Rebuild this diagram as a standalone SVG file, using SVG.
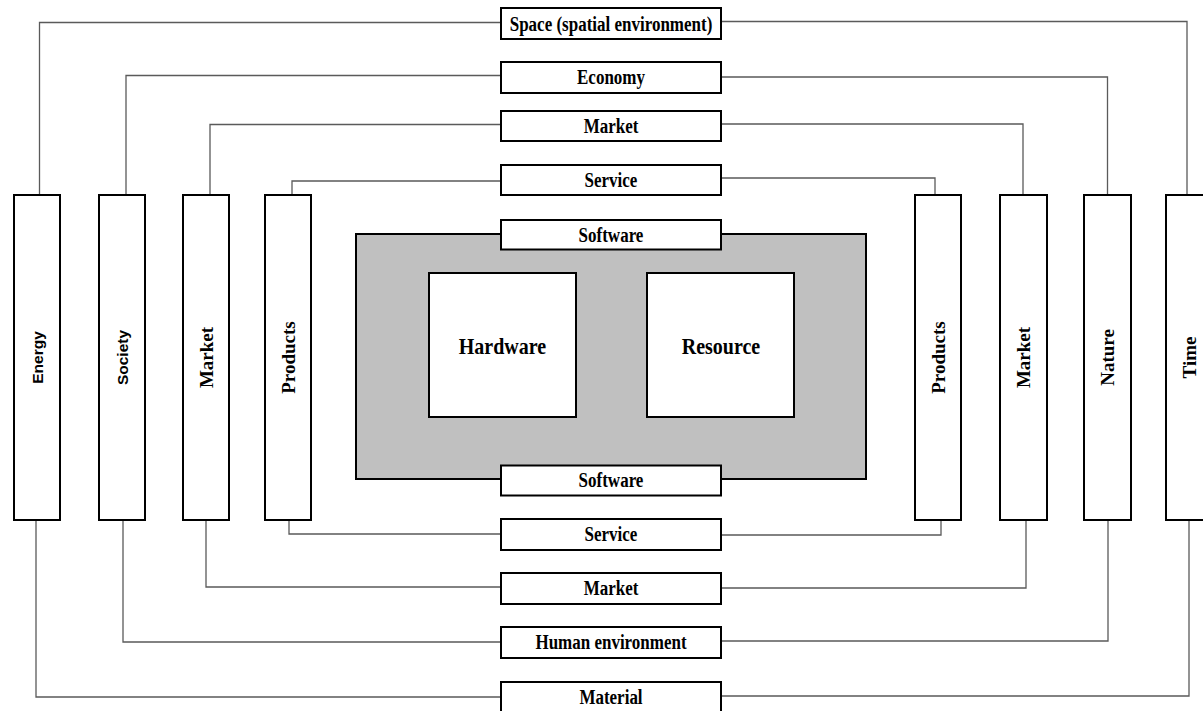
<svg xmlns="http://www.w3.org/2000/svg" width="1203" height="711" viewBox="0 0 1203 711">
<style>
.box{fill:#fff;stroke:#000;stroke-width:2}
.core{fill:#c0c0c0;stroke:#000;stroke-width:2}
.con{fill:none;stroke:#5a5a5a;stroke-width:1.3}
.lbl{font-family:"Liberation Serif","Times New Roman",serif;font-weight:bold;font-size:17px;text-anchor:middle;fill:#000}
.big{font-family:"Liberation Serif","Times New Roman",serif;font-weight:bold;font-size:20px;text-anchor:middle;fill:#000}
.vs{font-family:"Liberation Serif","Times New Roman",serif;font-weight:bold;font-size:19px;text-anchor:middle;fill:#000}
.va{font-family:"Liberation Sans",Arial,sans-serif;font-weight:bold;font-size:15.5px;text-anchor:middle;fill:#000}
</style>
<rect width="1203" height="711" fill="#fff"/>
<g id="connectors">
<polyline class="con" points="501,22.5 39.5,22.5 39.5,195"/>
<polyline class="con" points="721,21.5 1187,21.5 1187,195"/>
<polyline class="con" points="501,75.5 126,75.5 126,195"/>
<polyline class="con" points="721,77 1107.5,77 1107.5,195"/>
<polyline class="con" points="501,124.5 210,124.5 210,195"/>
<polyline class="con" points="721,124 1023,124 1023,195"/>
<polyline class="con" points="501,181 292,181 292,195"/>
<polyline class="con" points="721,178 935,178 935,195"/>
<polyline class="con" points="289,520 289,534 501,534"/>
<polyline class="con" points="721,535 941,535 941,520"/>
<polyline class="con" points="206,520 206,587 501,587"/>
<polyline class="con" points="721,588 1026,588 1026,520"/>
<polyline class="con" points="123,520 123,642 501,642"/>
<polyline class="con" points="721,641 1108,641 1108,520"/>
<polyline class="con" points="36,520 36,697 501,697"/>
<polyline class="con" points="721,696 1189,696 1189,520"/>
</g>
<g id="core"><rect class="core" x="356" y="234" width="510" height="245"/></g>
<g id="hardware"><rect class="box" x="429" y="273" width="147" height="144"/><text class="big" transform="translate(502.5,354) scale(1,1.15)">Hardware</text></g>
<g id="resource"><rect class="box" x="647" y="273" width="147" height="144"/><text class="big" transform="translate(721,354) scale(1,1.15)">Resource</text></g>
<g id="space"><rect class="box" x="501" y="8" width="220" height="31"/><text class="lbl" transform="translate(611,30.5) scale(1,1.18)">Space (spatial environment)</text></g>
<g id="economy"><rect class="box" x="501" y="62" width="220" height="31"/><text class="lbl" transform="translate(611,84.3) scale(1,1.18)">Economy</text></g>
<g id="market-top"><rect class="box" x="501" y="111" width="220" height="30"/><text class="lbl" transform="translate(611,132.8) scale(1,1.18)">Market</text></g>
<g id="service-top"><rect class="box" x="501" y="165" width="220" height="30"/><text class="lbl" transform="translate(611,186.8) scale(1,1.18)">Service</text></g>
<g id="software-top"><rect class="box" x="501" y="220" width="220" height="29.5"/><text class="lbl" transform="translate(611,241.5) scale(1,1.18)">Software</text></g>
<g id="software-bottom"><rect class="box" x="501" y="465.5" width="220" height="30"/><text class="lbl" transform="translate(611,487.3) scale(1,1.18)">Software</text></g>
<g id="service-bottom"><rect class="box" x="501" y="519" width="220" height="31"/><text class="lbl" transform="translate(611,541.3) scale(1,1.18)">Service</text></g>
<g id="market-bottom"><rect class="box" x="501" y="573" width="220" height="31"/><text class="lbl" transform="translate(611,595.3) scale(1,1.18)">Market</text></g>
<g id="human"><rect class="box" x="501" y="627" width="220" height="31"/><text class="lbl" transform="translate(611,649.3) scale(1,1.18)">Human environment</text></g>
<g id="material"><rect class="box" x="501" y="682" width="220" height="30"/><text class="lbl" transform="translate(611,704) scale(1,1.18)">Material</text></g>
<g id="energy"><rect class="box" x="14" y="195" width="46" height="325"/><text class="va" transform="translate(42.7,357.5) rotate(-90)">Energy</text></g>
<g id="society"><rect class="box" x="99" y="195" width="46" height="325"/><text class="va" transform="translate(128.3,357.5) rotate(-90)">Society</text></g>
<g id="market-left"><rect class="box" x="183" y="195" width="46" height="325"/><text class="vs" transform="translate(212.5,357.5) rotate(-90)">Market</text></g>
<g id="products-left"><rect class="box" x="265" y="195" width="46" height="325"/><text class="vs" transform="translate(295,357.5) rotate(-90)">Products</text></g>
<g id="products-right"><rect class="box" x="915" y="195" width="46" height="325"/><text class="vs" transform="translate(945,357.5) rotate(-90)">Products</text></g>
<g id="market-right"><rect class="box" x="1000" y="195" width="47" height="325"/><text class="vs" transform="translate(1030,357.5) rotate(-90)">Market</text></g>
<g id="nature"><rect class="box" x="1084" y="195" width="47" height="325"/><text class="vs" transform="translate(1113.5,357.5) rotate(-90)">Nature</text></g>
<g id="time"><rect class="box" x="1166" y="195" width="46" height="325"/><text class="vs" transform="translate(1196,357.5) rotate(-90)">Time</text></g>
</svg>
